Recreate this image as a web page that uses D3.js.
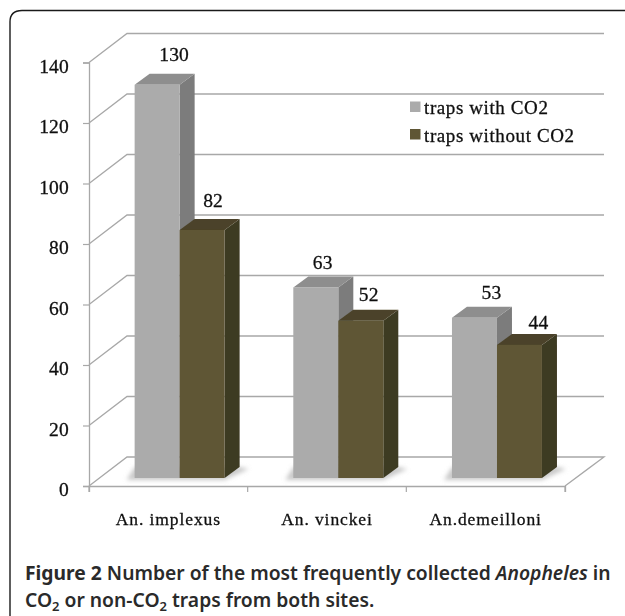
<!DOCTYPE html>
<html><head><meta charset="utf-8">
<script src="https://cdnjs.cloudflare.com/ajax/libs/d3/7.8.5/d3.min.js"></script>
<style>html,body{margin:0;padding:0;background:#fff}svg{display:block}</style>
</head><body><svg id="c" width="625" height="616"></svg>
<script>
const categories = ["An. implexus", "An. vinckei", "An.demeilloni"];
const seriesNames = ["traps with CO2", "traps without CO2"];
const withCO2 = [130, 63, 53];
const withoutCO2 = [82, 52, 44];
const yTicks = [0, 20, 40, 60, 80, 100, 120, 140];
const frontColors = ["#ababab", "#5f5636"];
const topColors = ["#8e8e8e", "#4b4329"];
const sideColors = ["#7b7b7b", "#3e3b23"];
const labelNudgeX = [[17, 11], [7, 8], [17, 19]];
const labelNudgeY = [[-24, -23], [-18, -20], [-19, -16]];

const svg = d3.select("#c");
const defs = svg.append("defs");
defs.append("filter").attr("id","soft").attr("x","-5%").attr("y","-5%").attr("width","110%").attr("height","110%")
  .append("feGaussianBlur").attr("stdDeviation",0.5);
defs.append("filter").attr("id","shadow").attr("x","-30%").attr("y","-60%").attr("width","160%").attr("height","220%")
  .append("feGaussianBlur").attr("stdDeviation",2);

// frame
svg.append("path").attr("d","M10,616V22Q10,10.5 22,10.5H625").attr("fill","none").attr("stroke","#1a1a1a").attr("stroke-width",1.4);

const chart = svg.append("g").attr("filter","url(#soft)");
const y = d3.scaleLinear().domain([0,140]).range([486,62.5]);
const x = d3.scaleBand().domain(categories).range([89,565]);
const inner = d3.scaleBand().domain(seriesNames).range([-45,45]);
const wallDx = 38, wallDy = -29, wallRight = 604;
const barShift = 11.3, barLift = -8, depthDx = 15, depthDy = -11;
const gridColor = "#a8a8a8";
const serif = t => t.attr("font-family","Liberation Serif").attr("fill","#111").attr("stroke","#111").attr("stroke-width",0.3);

// walls and floor
yTicks.forEach(t=>{
  if(t>0) chart.append("path").attr("fill","none").attr("stroke",gridColor).attr("stroke-width",1.3)
    .attr("d",d3.line()([[x.range()[0],y(t)],[x.range()[0]+wallDx,y(t)+wallDy],[wallRight,y(t)+wallDy]]));
});
chart.append("path").attr("fill","none").attr("stroke",gridColor).attr("stroke-width",1.3)
  .attr("d",d3.line()([[89,y(0)],[89+wallDx,y(0)+wallDy],[wallRight,y(0)+wallDy],[565,y(0)]]));

// axes
const yAxis = d3.axisLeft(y).tickValues(yTicks).tickSize(6).tickPadding(14);
const gy = chart.append("g").attr("transform","translate(89,0)").call(yAxis);
serif(gy.selectAll("text")).attr("font-size",19.5).attr("dy","0.5em").attr("letter-spacing",0.2);
const xAxis = d3.axisBottom(x).tickSize(6).tickPadding(21).tickSizeOuter(6);
const gx = chart.append("g").attr("transform","translate(0,486)").call(xAxis);
gx.selectAll(".tick line").remove();
serif(gx.selectAll("text")).attr("font-size",17.5).attr("letter-spacing",0.9);
[...x.domain().map(d=>x(d)),x.range()[1]].forEach(px=>{
  chart.append("line").attr("x1",px).attr("x2",px).attr("y1",486).attr("y2",492).attr("stroke",gridColor).attr("stroke-width",1.2);
});
chart.selectAll(".domain").attr("stroke",gridColor).attr("stroke-width",1.3);
gy.selectAll(".tick line").attr("stroke",gridColor).attr("stroke-width",1.2);

// bars
const values = [withCO2, withoutCO2];
categories.forEach((c,i)=>{
  const cx = x(c)+x.bandwidth()/2+barShift;
  const base = y(0)+barLift;
  const bw = inner.bandwidth();
  const leftEdge = cx+inner(seriesNames[0]);
  const rightEdge = cx+inner(seriesNames[1])+bw;
  // floor shadow
  chart.append("path").attr("fill","#c9c9c9").attr("filter","url(#shadow)")
    .attr("d",d3.line()([[leftEdge-8,base+2],[rightEdge,base+2],[rightEdge+depthDx+9,base+depthDy+2],[rightEdge+depthDx,base+depthDy],[leftEdge,base+depthDy]]));
  seriesNames.forEach((s,k)=>{
    const v = values[k][i];
    const x0 = cx+inner(s), x1 = x0+bw;
    const top = base-(y(0)-y(v));
    const g = chart.append("g");
    g.append("path").attr("fill",sideColors[k]).attr("d",d3.line()([[x1,top],[x1+depthDx,top+depthDy],[x1+depthDx,base+depthDy],[x1,base]])+"Z");
    g.append("path").attr("fill",topColors[k]).attr("d",d3.line()([[x0,top],[x0+depthDx,top+depthDy],[x1+depthDx,top+depthDy],[x1,top]])+"Z");
    g.append("rect").attr("x",x0).attr("y",top).attr("width",bw).attr("height",base-top).attr("fill",frontColors[k]);
  });
});
// bar labels drawn above all bars
categories.forEach((c,i)=>{
  const cx = x(c)+x.bandwidth()/2+barShift;
  const base = y(0)+barLift;
  seriesNames.forEach((s,k)=>{
    const v = values[k][i];
    serif(chart.append("text").text(v)
      .attr("x",cx+inner(s)+inner.bandwidth()/2+labelNudgeX[i][k])
      .attr("y",base-(y(0)-y(v))+labelNudgeY[i][k])
      .attr("text-anchor","middle")).attr("font-size",19.5).attr("letter-spacing",0.2);
  });
});
// legend
seriesNames.forEach((s,k)=>{
  const ly = 101.5+k*27.5;
  chart.append("rect").attr("x",410).attr("y",ly).attr("width",10.5).attr("height",10.5).attr("fill",frontColors[k]);
  serif(chart.append("text").text(s).attr("x",424).attr("y",ly+12.5)).attr("font-size",19).attr("letter-spacing",0.6);
});

// caption
const cap = svg.append("g").attr("font-family","Noto Sans").attr("font-size",19.3).attr("font-weight",600).attr("fill","#2a2a2a");
const l1 = cap.append("text").attr("x",25).attr("y",580);
l1.append("tspan").text("Figure 2").attr("font-weight",700);
l1.append("tspan").text(" Number of the most frequently collected ");
l1.append("tspan").text("Anopheles").attr("font-style","italic");
l1.append("tspan").text(" in");
const l2 = cap.append("text").attr("x",25).attr("y",607);
l2.append("tspan").text("CO");
l2.append("tspan").text("2").attr("font-size",13).attr("dy",4);
l2.append("tspan").text(" or non-CO").attr("dy",-4);
l2.append("tspan").text("2").attr("font-size",13).attr("dy",4);
l2.append("tspan").text(" traps from both sites.").attr("dy",-4);
</script></body></html>
